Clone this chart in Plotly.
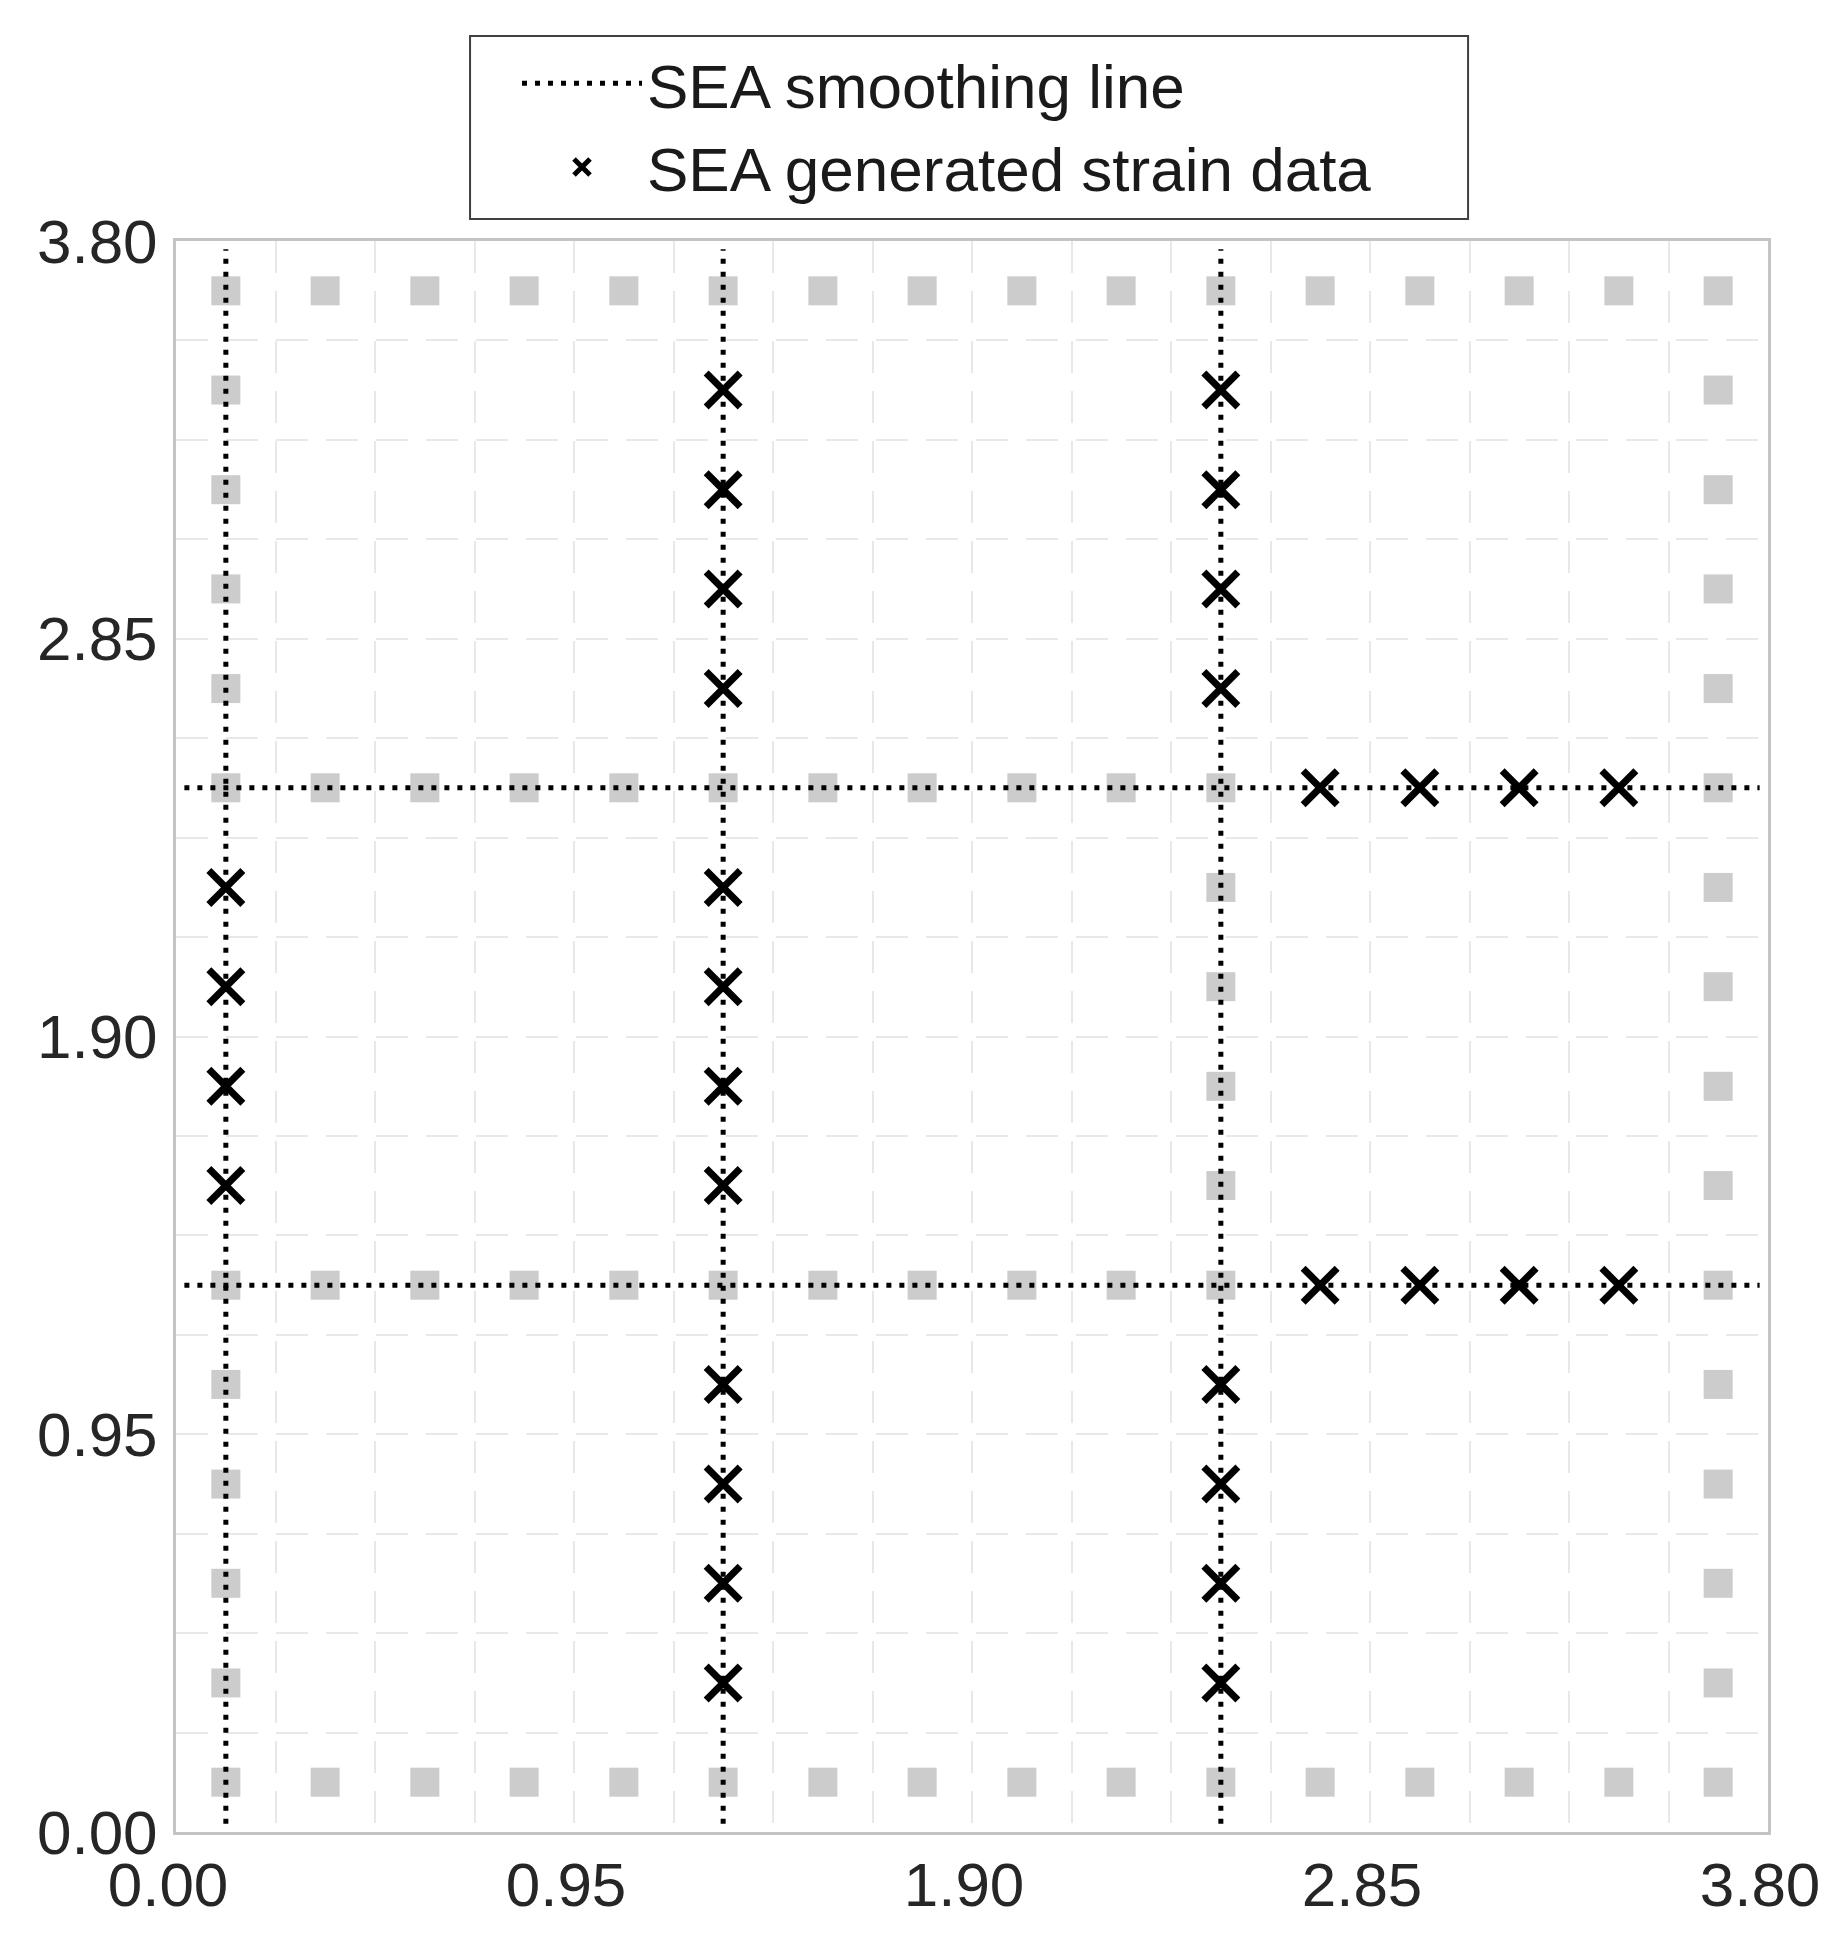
import plotly.graph_objects as go

# ---------------- data ----------------
tick_vals = [0.0, 0.95, 1.90, 2.85, 3.80]
tick_text = ["0.00", "0.95", "1.90", "2.85", "3.80"]

# grey sensor-node squares (x, y)
grey_x = [
    # top row
    0.119, 0.356, 0.594, 0.831, 1.069, 1.306, 1.544, 1.781, 2.019, 2.256, 2.494, 2.731, 2.969, 3.206, 3.444, 3.681,
    # bottom row
    0.119, 0.356, 0.594, 0.831, 1.069, 1.306, 1.544, 1.781, 2.019, 2.256, 2.494, 2.731, 2.969, 3.206, 3.444, 3.681,
    # left column
    0.119, 0.119, 0.119, 0.119, 0.119, 0.119, 0.119, 0.119, 0.119, 0.119,
    # right column
    3.681, 3.681, 3.681, 3.681, 3.681, 3.681, 3.681, 3.681, 3.681, 3.681, 3.681, 3.681, 3.681, 3.681,
    # upper horizontal line
    0.356, 0.594, 0.831, 1.069, 1.306, 1.544, 1.781, 2.019, 2.256, 2.494,
    # lower horizontal line
    0.356, 0.594, 0.831, 1.069, 1.306, 1.544, 1.781, 2.019, 2.256, 2.494,
    # third vertical line, middle part
    2.494, 2.494, 2.494, 2.494,
]
grey_y = [
    3.681, 3.681, 3.681, 3.681, 3.681, 3.681, 3.681, 3.681, 3.681, 3.681, 3.681, 3.681, 3.681, 3.681, 3.681, 3.681,
    0.119, 0.119, 0.119, 0.119, 0.119, 0.119, 0.119, 0.119, 0.119, 0.119, 0.119, 0.119, 0.119, 0.119, 0.119, 0.119,
    0.356, 0.594, 0.831, 1.069, 1.306, 2.494, 2.731, 2.969, 3.206, 3.444,
    0.356, 0.594, 0.831, 1.069, 1.306, 1.544, 1.781, 2.019, 2.256, 2.494, 2.731, 2.969, 3.206, 3.444,
    2.494, 2.494, 2.494, 2.494, 2.494, 2.494, 2.494, 2.494, 2.494, 2.494,
    1.306, 1.306, 1.306, 1.306, 1.306, 1.306, 1.306, 1.306, 1.306, 1.306,
    1.544, 1.781, 2.019, 2.256,
]

# SEA generated strain data (x markers)
strain_x = [
    0.119, 0.119, 0.119, 0.119,
    1.306, 1.306, 1.306, 1.306, 1.306, 1.306, 1.306, 1.306, 1.306, 1.306, 1.306, 1.306,
    2.494, 2.494, 2.494, 2.494, 2.494, 2.494, 2.494, 2.494,
    2.731, 2.969, 3.206, 3.444,
    2.731, 2.969, 3.206, 3.444,
]
strain_y = [
    1.544, 1.781, 2.019, 2.256,
    0.356, 0.594, 0.831, 1.069, 1.544, 1.781, 2.019, 2.256, 2.731, 2.969, 3.206, 3.444,
    0.356, 0.594, 0.831, 1.069, 2.731, 2.969, 3.206, 3.444,
    2.494, 2.494, 2.494, 2.494,
    1.306, 1.306, 1.306, 1.306,
]

# SEA smoothing lines (segments separated by None)
smooth_x = [0.119, 0.119, None, 1.306, 1.306, None, 2.494, 2.494, None, 0.02, 3.78, None, 0.02, 3.78]
smooth_y = [0.02, 3.78, None, 0.02, 3.78, None, 0.02, 3.78, None, 2.494, 2.494, None, 1.306, 1.306]

# ---------------- figure ----------------
FONT = "Liberation Sans, Arial, sans-serif"

fig = go.Figure()

fig.add_trace(go.Scatter(
    x=grey_x, y=grey_y, mode="markers", showlegend=False, hoverinfo="skip",
    marker=dict(symbol="square", size=29, color="#cccccc", line=dict(width=0)),
))

fig.add_trace(go.Scatter(
    x=smooth_x, y=smooth_y, mode="lines", name="SEA smoothing line",
    line=dict(color="black", width=5, dash="5px,8px"),
))

fig.add_trace(go.Scatter(
    x=strain_x, y=strain_y, mode="markers", name="SEA generated strain data",
    marker=dict(symbol="x-thin", size=34, color="black", line=dict(width=7, color="black")),
))

grid_style = dict(gridcolor="#e8e8e8", gridwidth=2, griddash="32px,18px")

axis_common = dict(
    range=[0, 3.8],
    tickmode="array",
    tickvals=tick_vals,
    ticktext=tick_text,
    ticks="",
    showline=True,
    linecolor="#c4c4c4",
    linewidth=3,
    mirror=True,
    showgrid=True,
    zeroline=False,
    automargin=False,
    ticklabeloverflow="allow",
    tickfont=dict(family=FONT, size=62, color="#262626"),
    minor=dict(tick0=0, dtick=0.2375, showgrid=True, ticks="", **grid_style),
    **grid_style,
)

fig.update_xaxes(**axis_common, ticklabelstandoff=-3, ticklabelshift=-8)
fig.update_yaxes(**axis_common, ticklabelstandoff=3)

# legend frame (drawn as a rectangle so it can have Excel-like padding)
fig.add_shape(
    type="rect", xref="paper", yref="paper",
    x0=0.1847, x1=0.8116, y0=1.0138, y1=1.1288,
    line=dict(color="#404040", width=2), fillcolor="white", layer="below",
)

fig.update_layout(
    width=1820,
    height=1925,
    margin=dict(l=168, r=60, t=233, b=101, pad=0, autoexpand=False),
    plot_bgcolor="white",
    paper_bgcolor="white",
    font=dict(family=FONT, color="#1a1a1a"),
    legend=dict(
        x=0.2142, xanchor="left",
        y=1.1285, yanchor="top",
        bgcolor="rgba(0,0,0,0)",
        borderwidth=0,
        font=dict(family=FONT, size=62, color="#1a1a1a"),
        itemwidth=120,
        tracegroupgap=0,
    ),
)

fig.write_html("out.html")
